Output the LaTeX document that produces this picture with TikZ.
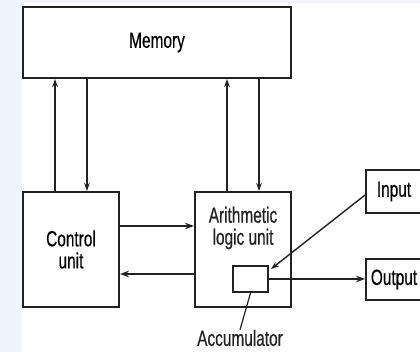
\documentclass[tikz,border=0pt]{standalone}
\usepackage{fontspec}
\setmainfont{Liberation Sans}[FakeStretch=0.7,FakeBold=0.4]
\usepackage{tikz}
\usetikzlibrary{arrows.meta,positioning}

\definecolor{pageblue}{HTML}{F0F5FD}
\definecolor{ink}{HTML}{222222}

\begin{document}
\begin{tikzpicture}[x=1pt,y=-1pt]
			\tikzstyle{Box}		= [draw=ink, line width=1.9pt, fill=white, inner sep=0pt, font=\fontsize{22}{22}\selectfont, align=center]
			\tikzstyle{Label}	= [inner sep=0pt, font=\fontsize{22}{22}\selectfont, align=center, text=ink]
			\tikzstyle{Link}	= [draw=ink, line width=1.4pt, -{Stealth[length=8pt,width=5.5pt]}]
			\tikzstyle{Bus}		= [draw=ink, line width=2pt, -{Stealth[length=9pt,width=6.5pt]}]

			\useasboundingbox (0,0) rectangle (420,352);
			\fill [pageblue] (0,0) rectangle (22,352);
			\fill [pageblue] (0,0) rectangle (420,3);

			\node (mem) at (157,42.5) [Box, minimum width=268pt, minimum height=71pt] {Memory};
			\node (cu) at (71,249.5) [Box, minimum width=96pt, minimum height=115pt] {Control\\unit};
			\node (alu) at (243,249.5) [Box, minimum width=96pt, minimum height=115pt] {};
			\node (alutext) at (243,228) [Label] {Arithmetic\\logic unit};
			\node (acc) at (250.5,279) [Box, minimum width=35pt, minimum height=26pt] {};
			\node (inp) at (394,191.5) [Box, minimum width=56pt, minimum height=43pt] {Input};
			\node (out) at (394,279.5) [Box, minimum width=56pt, minimum height=41pt] {Output};
			\node (acclabel) at (240,338) [Label] {Accumulator};

			\draw [Link] ([xshift=-16pt]cu.north) to ([xshift=-16pt]cu.north |- mem.south);
			\draw [Link] ([xshift=16pt]cu.north |- mem.south) to ([xshift=16pt]cu.north);
			\draw [Link] ([xshift=-16pt]alu.north) to ([xshift=-16pt]alu.north |- mem.south);
			\draw [Link] ([xshift=16pt]alu.north |- mem.south) to ([xshift=16pt]alu.north);

			\draw [Bus] ([yshift=23.5pt]cu.east) to ([yshift=23.5pt]alu.west);
			\draw [Bus] ([yshift=-24.5pt]alu.west) to ([yshift=-24.5pt]cu.east);
			\draw [Bus] (acc.east) to (acc.east -| out.west);
			\draw [Link] ([yshift=-3.5pt]inp.west) to ([xshift=2pt,yshift=-4pt]acc.north east);
			\draw [ink, line width=1.2pt] (acclabel.north) to (acc.south);
		\end{tikzpicture}
\end{document}
